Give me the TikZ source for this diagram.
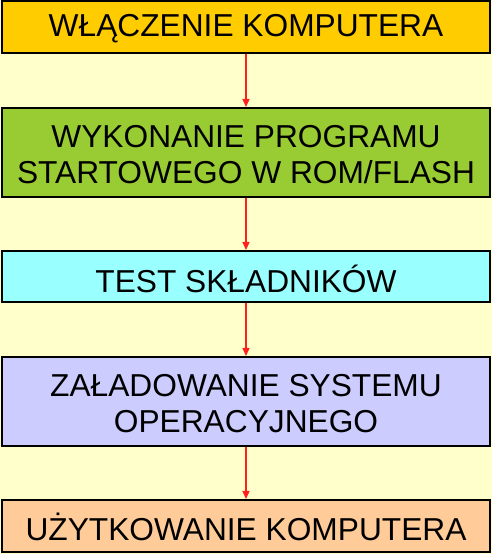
\documentclass[tikz,border=0pt]{standalone}
\usepackage{fontspec}
\setmainfont{Liberation Sans}
\usetikzlibrary{arrows.meta}
\definecolor{bgc}{HTML}{FFFFCC}
\definecolor{c1}{HTML}{FFCC00}
\definecolor{c2}{HTML}{99CC33}
\definecolor{c3}{HTML}{99FFFF}
\definecolor{c4}{HTML}{CCCCFF}
\definecolor{c5}{HTML}{FFCC99}
\definecolor{arr}{HTML}{FF2020}
\tikzset{
  stepbox/.style={draw=black, line width=2pt, minimum width=488pt, inner sep=0pt,
    align=center, font=\fontsize{31.7}{35.5}\selectfont, text=black, text depth=0pt},
  flow/.style={draw=arr, line width=1.3pt, -{Triangle[length=8pt,width=7pt]}}
}
\begin{document}
\begin{tikzpicture}[x=1pt,y=1pt]
\fill[bgc] (0,0) rectangle (492,554);
\useasboundingbox (0,0) rectangle (492,554);
\node[stepbox, fill=c1, minimum height=52pt, text height=17.7pt] (b1) at (246,526.5) {WŁĄCZENIE KOMPUTERA};
\node[stepbox, fill=c2, minimum height=89pt, text height=61.1pt] (b2) at (246,401.5) {WYKONANIE PROGRAMU\\STARTOWEGO W ROM/FLASH};
\node[stepbox, fill=c3, minimum height=51pt, text height=31.7pt] (b3) at (246,277.5) {TEST SKŁADNIKÓW};
\node[stepbox, fill=c4, minimum height=89pt, text height=61.3pt] (b4) at (246,152.5) {ZAŁADOWANIE SYSTEMU\\OPERACYJNEGO};
\node[stepbox, fill=c5, minimum height=52pt, text height=29.1pt] (b5) at (246,28) {UŻYTKOWANIE KOMPUTERA};
\draw[flow] (b1.south) -- (b2.north);
\draw[flow] (b2.south) -- (b3.north);
\draw[flow] (b3.south) -- (b4.north);
\draw[flow] (b4.south) -- (b5.north);
\end{tikzpicture}
\end{document}
